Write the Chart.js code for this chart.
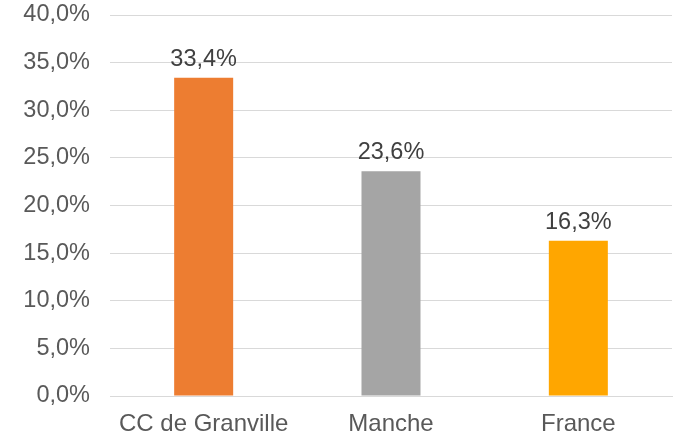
<!DOCTYPE html>
<html>
<head>
<meta charset="utf-8">
<script src="https://cdn.jsdelivr.net/npm/chart.js@4/dist/chart.umd.min.js"></script>
<style>
  html, body { margin: 0; padding: 0; background: #fff; }
  #box { width: 673px; height: 438px; }
</style>
</head>
<body>
<div id="box"><canvas id="grafBarras"></canvas></div>
<script>
// donnees
const categories = ['CC de Granville', 'Manche', 'France'];
const valeurs = [33.4, 23.6, 16.3];
const couleurs = ['#ED7D31', '#A5A5A5', '#FFA600'];
const ticksY = [0, 5, 10, 15, 20, 25, 30, 35, 40];

const police = '"Liberation Sans", Arial, sans-serif';

function fmt(v, dec) {
  return v.toFixed(dec).replace('.', ',') + '%';
}

// etiquettes au-dessus des barres
const etiquettes = {
  id: 'etiquettes',
  afterDatasetsDraw(chart) {
    const c = chart.ctx;
    const meta = chart.getDatasetMeta(0);
    c.save();
    c.font = '23.5px ' + police;
    c.fillStyle = '#404040';
    c.textAlign = 'center';
    c.textBaseline = 'alphabetic';
    meta.data.forEach((bar, i) => {
      c.fillText(fmt(valeurs[i], 1), bar.x, bar.y - 12);
    });
    c.restore();
  }
};

const ctx = document.getElementById('grafBarras').getContext('2d');
const myChart = new Chart(ctx, {
  type: 'bar',
  data: {
    labels: categories,
    datasets: [{
      data: valeurs,
      backgroundColor: couleurs,
      barPercentage: 0.315,
      categoryPercentage: 1
    }]
  },
  options: {
    responsive: true,
    maintainAspectRatio: false,
    animation: false,
    layout: { padding: { top: 15, right: 1, left: 0, bottom: 0 } },
    plugins: { legend: { display: false }, tooltip: { enabled: false } },
    scales: {
      x: {
        afterFit(axis) { axis.height = 42; },
        grid: { display: false },
        border: { color: '#d9d9d9', width: 1 },
        ticks: {
          color: '#595959',
          font: { family: police, size: 24 },
          padding: 6
        }
      },
      y: {
        min: 0,
        max: 40,
        afterFit(axis) { axis.width = 110; axis.paddingTop = 0; },
        afterBuildTicks(axis) { axis.ticks = ticksY.map(v => ({ value: v })); },
        grid: { color: '#d9d9d9', lineWidth: 1, drawTicks: false },
        border: { display: false },
        ticks: {
          color: '#595959',
          font: { family: police, size: 23.5 },
          padding: 20,
          callback: v => fmt(v, 1)
        }
      }
    }
  },
  plugins: [etiquettes]
});
</script>
</body>
</html>
